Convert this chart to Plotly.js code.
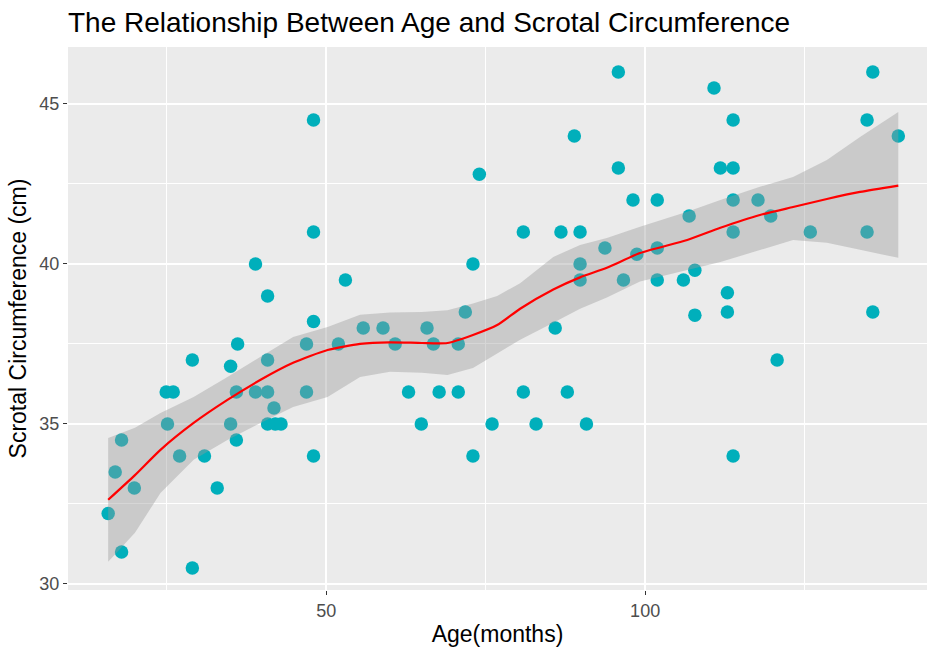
<!DOCTYPE html>
<html>
<head>
<meta charset="utf-8">
<script src="https://cdn.plot.ly/plotly-3.0.1.min.js"></script>
<style>html,body{margin:0;padding:0;background:#fff;}#chart{width:927px;height:652px;}</style>
</head>
<body>
<div id="chart"></div>
<script>
// Observed data: Age (months) and Scrotal Circumference (cm)
var ageMonths = [15.8,16.9,17.9,17.9,19.9,24.9,25.1,26.0,27.0,29.0,29.0,30.9,32.9,35.0,35.0,36.1,35.9,35.9,38.9,38.9,
  40.8,40.8,40.8,40.8,41.8,42.0,42.9,46.9,46.9,48.0,48.0,48.0,48.0,51.9,53.0,55.8,58.9,60.8,62.9,64.9,
  65.8,66.8,67.7,70.7,70.7,71.8,73.0,73.0,74.0,76.0,80.9,80.9,82.9,85.9,86.8,87.8,88.9,89.8,89.8,89.8,
  90.8,93.7,95.8,95.8,96.6,98.1,98.7,101.9,101.9,101.9,106.0,106.9,107.8,107.8,110.8,111.8,112.9,112.9,113.8,113.8,
  113.8,113.8,113.8,117.7,119.7,120.7,125.9,134.8,134.8,135.7,135.7,139.7];
var scrotalCm = [32.2,33.5,34.5,31.0,33.0,36.0,35.0,36.0,34.0,37.0,30.5,34.0,33.0,36.8,35.0,37.5,36.0,34.5,40.0,36.0,
  39.0,37.0,36.0,35.0,35.5,35.0,35.0,37.5,36.0,44.5,41.0,38.2,34.0,37.5,39.5,38.0,38.0,37.5,36.0,35.0,
  38.0,37.5,36.0,37.5,36.0,38.5,40.0,34.0,42.8,35.0,41.0,36.0,35.0,38.0,41.0,36.0,44.0,41.0,40.0,39.5,
  35.0,40.5,46.0,43.0,39.5,42.0,40.3,42.0,40.5,39.5,39.5,41.5,39.8,38.4,45.5,43.0,39.1,38.5,44.5,43.0,
  42.0,41.0,34.0,42.0,41.5,37.0,41.0,44.5,41.0,46.0,38.5,44.0];

// Loess smooth
var smoothX   = [15.8,20,24,29.2,34.5,39.7,44.8,50.2,55.3,60,65,69,73,76.8,80.4,85.6,89.8,94,99.2,106.6,111.8,118,123.2,128.5,133.7,139.7];
var smoothFit = [32.63,33.4,34.19,35.03,35.75,36.38,36.91,37.31,37.5,37.55,37.53,37.53,37.78,38.09,38.6,39.2,39.58,39.88,40.34,40.75,41.13,41.53,41.78,42.03,42.25,42.45];
var smoothUpper = [34.56,34.88,35.34,35.84,36.47,37.09,37.72,38.03,38.41,38.48,38.5,38.55,38.76,39.0,39.4,40.22,40.59,40.81,41.16,41.63,42.0,42.41,42.72,43.25,43.97,44.75];
var smoothLower = [30.69,31.6,32.84,33.88,34.5,35.03,35.53,35.84,36.47,36.63,36.6,36.53,36.75,37.2,37.63,38.16,38.6,38.95,39.45,39.81,40.06,40.44,40.75,40.66,40.44,40.19];

var titleText = "The Relationship Between Age and Scrotal Circumference";
var xTitle = "Age(months)";
var yTitle = "Scrotal Circumference (cm)";
var xTickVals = [50,100];
var yTickVals = [30,35,40,45];

var bandX = smoothX.concat(smoothX.slice().reverse());
var bandY = smoothUpper.concat(smoothLower.slice().reverse());

var traces = [
  {type:'scatter', mode:'markers', x:ageMonths, y:scrotalCm,
   marker:{color:'#00AFBB', size:13.5, line:{width:0}}, hoverinfo:'x+y', showlegend:false},
  {type:'scatter', mode:'lines', x:bandX, y:bandY, fill:'toself',
   fillcolor:'rgba(153,153,153,0.4)', line:{width:0, color:'rgba(0,0,0,0)'}, hoverinfo:'skip', showlegend:false},
  {type:'scatter', mode:'lines', x:smoothX, y:smoothFit, line:{color:'#FF0000', width:2.2, shape:'spline', smoothing:0.6},
   hoverinfo:'skip', showlegend:false}
];

var axisFont = {family:'Liberation Sans, Arial, sans-serif', size:18, color:'#4D4D4D'};
var layout = {
  width:927, height:652,
  margin:{l:68, r:0, t:47, b:62, pad:0},
  paper_bgcolor:'#FFFFFF', plot_bgcolor:'#EBEBEB',
  showlegend:false,
  title:{text:titleText, x:68/927, xanchor:'left', xref:'container', y:1-22/652, yanchor:'middle', yref:'container',
         font:{family:'Liberation Sans, Arial, sans-serif', size:28, color:'#000000'}},
  xaxis:{range:[9.5,144.2], tickmode:'array', tickvals:xTickVals, ticktext:xTickVals.map(String),
         showgrid:true, gridcolor:'#FFFFFF', gridwidth:2, zeroline:false, showline:false,
         ticks:'outside', ticklen:4, tickwidth:1, tickcolor:'#333333', tickfont:axisFont,
         minor:{tickmode:'array', tickvals:[25,75,125], showgrid:true, gridcolor:'#FFFFFF', gridwidth:1, ticks:''},
         title:{text:xTitle, font:{family:'Liberation Sans, Arial, sans-serif', size:23, color:'#000000'}, standoff:6},
         automargin:false},
  yaxis:{range:[29.81,46.78], tickmode:'array', tickvals:yTickVals, ticktext:yTickVals.map(String),
         showgrid:true, gridcolor:'#FFFFFF', gridwidth:2, zeroline:false, showline:false,
         ticks:'outside', ticklen:4, tickwidth:1, tickcolor:'#333333', tickfont:axisFont,
         minor:{tickmode:'array', tickvals:[32.5,37.5,42.5], showgrid:true, gridcolor:'#FFFFFF', gridwidth:1, ticks:''},
         title:{text:yTitle, font:{family:'Liberation Sans, Arial, sans-serif', size:23, color:'#000000'}, standoff:6},
         automargin:false}
};

Plotly.newPlot('chart', traces, layout, {staticPlot:true, displayModeBar:false});
</script>
</body>
</html>
